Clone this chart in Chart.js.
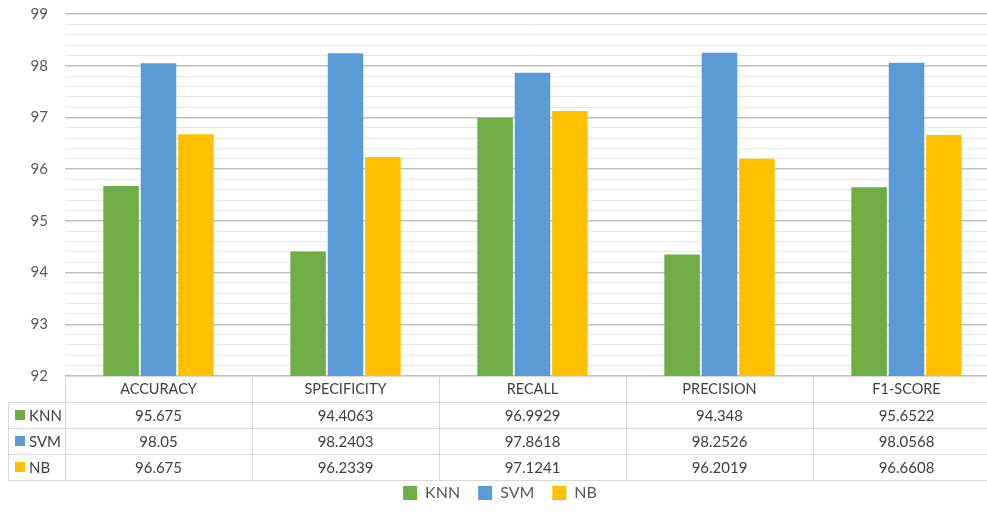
<!DOCTYPE html>
<html>
<head>
<meta charset="utf-8">
<script src="https://cdn.jsdelivr.net/npm/chart.js@4/dist/chart.umd.min.js"></script>
<style>
  html, body { margin: 0; padding: 0; background: #ffffff; overflow: hidden; }
  #wrap { position: relative; width: 1000px; height: 525px; margin-top: -12px; }
</style>
</head>
<body>
<div id="wrap"><canvas id="chart"></canvas></div>
<script>
// Metrics (categories) and classifier scores
const categories = ['ACCURACY', 'SPECIFICITY', 'RECALL', 'PRECISION', 'F1-SCORE'];
const knnValues = [95.675, 94.4063, 96.9929, 94.348, 95.6522];
const svmValues = [98.05, 98.2403, 97.8618, 98.2526, 98.0568];
const nbValues  = [96.675, 96.2339, 97.1241, 96.2019, 96.6608];
const seriesNames = ['KNN', 'SVM', 'NB'];
const yMin = 92;
const yMax = 99;

const COLORS = ['#70ad47', '#5b9bd5', '#ffc000'];
const FONT = 'Lato, "Open Sans", sans-serif';
const TABLE_LINE = '#d9d9d9';
const ROW_H = 26;

// Data table drawn under the plot, aligned to the category columns of the x scale
const dataTablePlugin = {
  id: 'dataTable',
  afterDraw(chart) {
    const ctx = chart.ctx;
    const x = chart.scales.x;
    const area = chart.chartArea;
    const top = area.bottom;
    const colW = (x.right - x.left) / categories.length;
    const right = x.right;
    const rowsTop = top + ROW_H;
    const bottom = top + ROW_H * 4;
    const labelLeft = 8;

    ctx.save();
    ctx.strokeStyle = TABLE_LINE;
    ctx.lineWidth = 1;
    ctx.beginPath();
    // header top line
    ctx.moveTo(x.left, Math.round(top) + 0.5); ctx.lineTo(right, Math.round(top) + 0.5);
    // row lines
    for (let r = 1; r <= 4; r++) {
      const yy = Math.round(top + ROW_H * r) + 0.5;
      ctx.moveTo(labelLeft, yy); ctx.lineTo(right, yy);
    }
    // column lines
    for (let c = 0; c <= categories.length; c++) {
      const xx = Math.round(x.left + colW * c) + 0.5;
      ctx.moveTo(xx, top); ctx.lineTo(xx, bottom);
    }
    ctx.moveTo(labelLeft + 0.5, rowsTop); ctx.lineTo(labelLeft + 0.5, bottom);
    ctx.stroke();

    const rows = chart.data.datasets;
    ctx.font = '15px ' + FONT;
    ctx.textBaseline = 'middle';
    rows.forEach((ds, r) => {
      const cy = rowsTop + ROW_H * r + ROW_H / 2;
      // series key
      ctx.fillStyle = ds.backgroundColor;
      ctx.fillRect(labelLeft + 7, Math.round(cy - 5), 10, 10);
      ctx.fillStyle = '#404040';
      ctx.textAlign = 'left';
      ctx.fillText(ds.label, labelLeft + 21, cy + 1);
      // values
      ctx.textAlign = 'center';
      ds.data.forEach((v, i) => {
        ctx.fillText(String(v), x.getPixelForValue(i), cy + 1);
      });
    });
    ctx.restore();
  }
};

const isMajor = (v) => Math.abs(v - Math.round(v)) < 1e-6;

new Chart(document.getElementById('chart'), {
  type: 'bar',
  data: {
    labels: categories,
    datasets: [
      { label: seriesNames[0], data: knnValues, backgroundColor: COLORS[0] },
      { label: seriesNames[1], data: svmValues, backgroundColor: COLORS[1] },
      { label: seriesNames[2], data: nbValues,  backgroundColor: COLORS[2] }
    ]
  },
  options: {
    responsive: true,
    maintainAspectRatio: false,
    animation: false,
    layout: { padding: { top: 0, left: 0, right: 0, bottom: 2 } },
    datasets: {
      bar: { categoryPercentage: 0.6, barPercentage: 0.95, borderWidth: 0 }
    },
    scales: {
      x: {
        grid: { display: false, drawTicks: false },
        border: { display: false },
        ticks: {
          font: { family: FONT, size: 14.5 },
          color: '#404040',
          padding: 5,
          maxRotation: 0
        },
        afterFit(scale) { scale.height = 91; }
      },
      y: {
        min: yMin,
        max: yMax,
        border: { display: false },
        grid: {
          drawTicks: false,
          color: (c) => isMajor(c.tick.value) ? '#c0c0c0' : '#e6e6e6',
          lineWidth: (c) => isMajor(c.tick.value) ? 1.5 : 1
        },
        ticks: {
          stepSize: 0.2,
          autoSkip: false,
          padding: 17,
          font: { family: FONT, size: 15 },
          color: '#595959',
          callback: (v) => isMajor(v) ? String(Math.round(v)) : ''
        },
        afterFit(scale) { scale.width = 65; }
      }
    },
    plugins: {
      legend: {
        position: 'bottom',
        labels: {
          boxWidth: 14,
          boxHeight: 14,
          padding: 18,
          color: '#595959',
          font: { family: FONT, size: 16 }
        }
      },
      tooltip: { enabled: false }
    }
  },
  plugins: [dataTablePlugin]
});
</script>
</body>
</html>
